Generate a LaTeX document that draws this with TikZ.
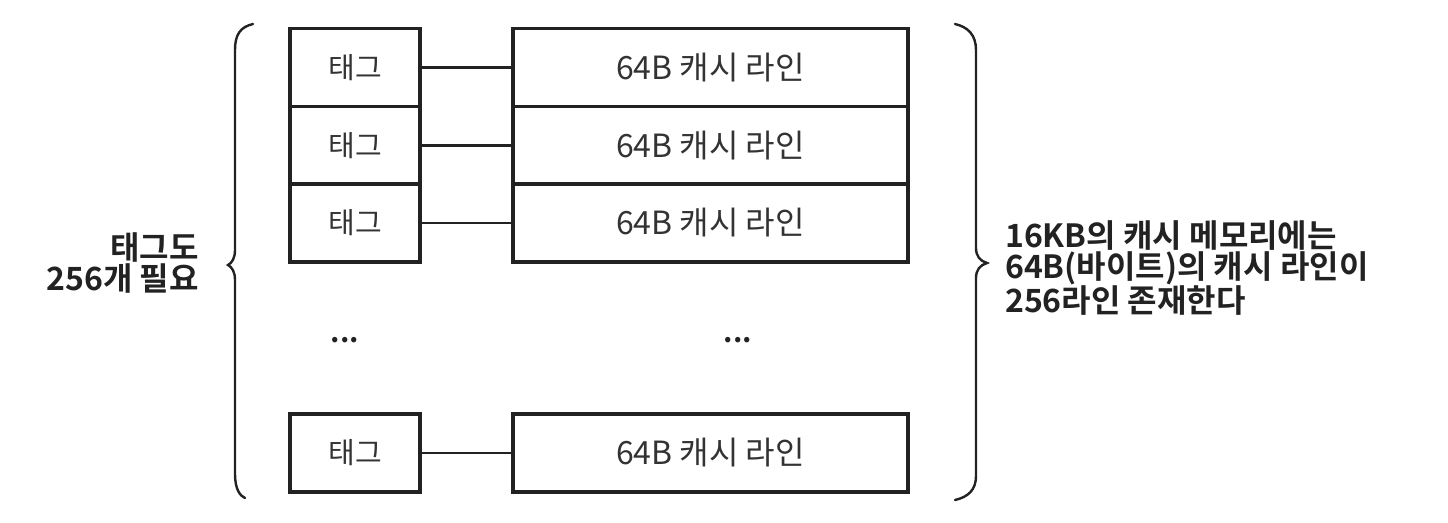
\documentclass[tikz,border=0pt]{standalone}
\usepackage{fontspec}
\setmainfont{Noto Sans CJK KR}
\newfontfamily\krbold{Noto Sans CJK KR Bold}
\definecolor{ink}{HTML}{222222}
\definecolor{txt}{HTML}{333333}
\tikzset{
  tagbox/.style={draw=ink, line width=3.8pt, minimum width=130pt, minimum height=78pt, inner sep=0pt, font=\fontsize{29}{32}\selectfont, text=txt},
  linebox/.style={draw=ink, line width=3.8pt, minimum width=395pt, minimum height=78pt, inner sep=0pt, font=\fontsize{32}{34}\selectfont, text=txt},
  conn/.style={draw=ink, line width=2.4pt},
  brace/.style={draw=ink, line width=2.4pt, line cap=round},
  lbl/.style={font=\krbold\fontsize{32}{31}\selectfont, text=ink, inner sep=0pt},
  dots/.style={font=\krbold\fontsize{29}{30}\selectfont, text=ink, inner sep=0pt}
}
\begin{document}
\begin{tikzpicture}[x=1pt,y=-1pt]
\useasboundingbox (0,0) rectangle (1448,522);
\fill[white] (0,0) rectangle (1448,522);
% rows
\node[tagbox] (t1) at (355,67.5) {태그};
\node[tagbox] (t2) at (355,145.5) {태그};
\node[tagbox] (t3) at (355,223) {태그};
\node[tagbox] (t4) at (355,453) {태그};
\node[linebox] (c1) at (710.5,67.5) {64B 캐시 라인};
\node[linebox] (c2) at (710.5,145.5) {64B 캐시 라인};
\node[linebox] (c3) at (710.5,223) {64B 캐시 라인};
\node[linebox] (c4) at (710.5,453) {64B 캐시 라인};
\draw[conn] (t1.east) -- (c1.west);
\draw[conn] (t2.east) -- (c2.west);
\draw[conn] (t3.east) -- (c3.west);
\draw[conn] (t4.east) -- (c4.west);
% dots
\node[dots] (d1) at (345,340) {...};
\node[dots] (d2) at (738,340) {...};
% braces
\draw[brace] (253,24) .. controls (240,27) and (235,35) .. (235,50)
  -- (235,250) .. controls (235,258) and (232,263) .. (228,265)
  .. controls (232,267) and (235,272) .. (235,280)
  -- (235,474) .. controls (235,489) and (240,496) .. (245,498);
\draw[brace] (955,24) .. controls (968,27) and (976,35) .. (976,50)
  -- (976,248) .. controls (976,256) and (980,261) .. (987,263)
  .. controls (980,265) and (976,270) .. (976,278)
  -- (976,476) .. controls (976,490) and (968,497) .. (955,500);
% labels
\node[lbl, anchor=east, align=right] (left) at (199,263) {태그도\\256개 필요};
\node[lbl, anchor=west, align=left] (right) at (1005,268) {16KB의 캐시 메모리에는\\64B(바이트)의 캐시 라인이\\256라인 존재한다};
\end{tikzpicture}
\end{document}
